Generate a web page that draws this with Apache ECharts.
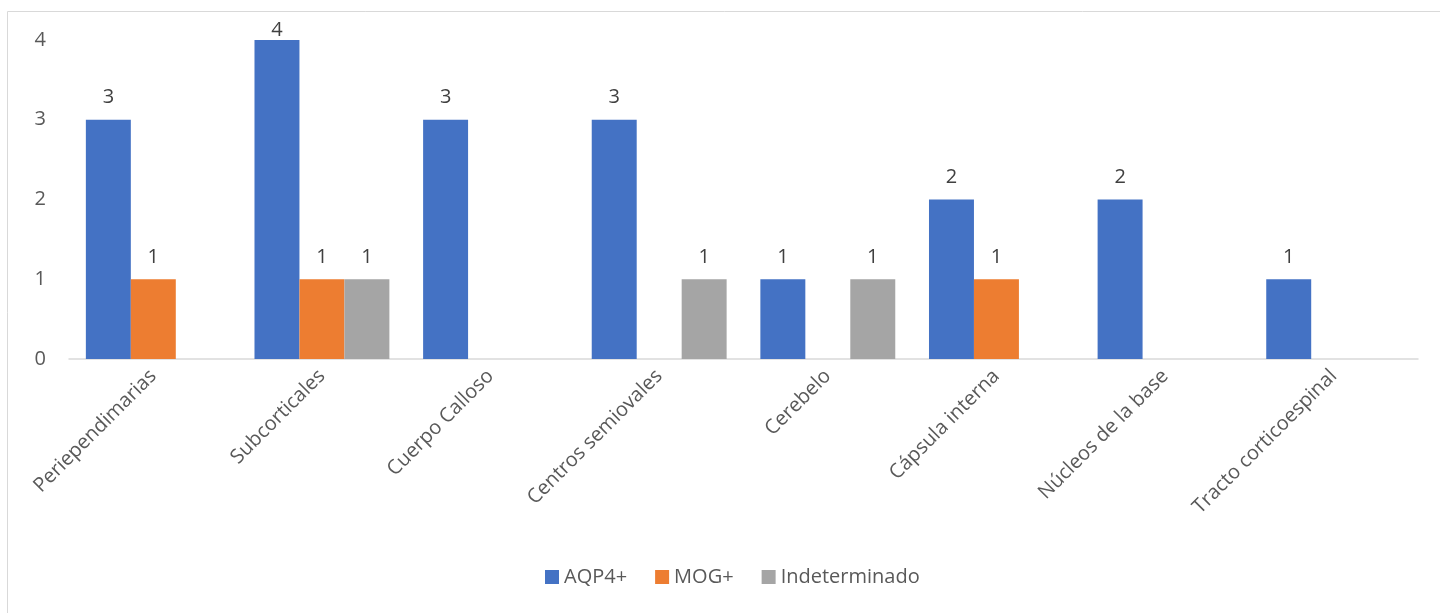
<!DOCTYPE html>
<html><head><meta charset="utf-8">
<script src="https://cdn.jsdelivr.net/npm/echarts@6/dist/echarts.min.js"></script>
<style>html,body{margin:0;padding:0;background:#fff}#c{width:1440px;height:613px}</style>
</head><body><div id="c"></div>
<script>
const categories = ['Periependimarias','Subcorticales','Cuerpo Calloso','Centros semiovales','Cerebelo','Cápsula interna','Núcleos de la base','Tracto corticoespinal'];
const aqp4 = [3,4,3,3,1,2,2,1];
const mog = [1,1,null,null,null,1,null,null];
const indet = [null,1,null,1,1,null,null,null];
const yTicks = [0,1,2,3,4];
const FONT = 'Open Sans';
const yMax = yTicks[yTicks.length-1];
const chart = echarts.init(document.getElementById('c'));
const lbl = {show:true, position:'top', distance:12, color:'#404040', fontSize:20, fontFamily:FONT};
// Values at the top of the axis get their label squeezed down inside the plot, as in the reference
const toData = arr => arr.map(v => v === yMax ? {value:v, label:{distance:0}} : v);
chart.setOption({
  animation:false,
  graphic:[{type:'rect', shape:{x:7.5,y:11.5,width:1500,height:700}, style:{fill:'none', stroke:'#d9d9d9', lineWidth:1}, silent:true}],
  grid:{left:69, right:22, top:40, bottom:254},
  legend:{bottom:21, left:540, itemWidth:14, itemHeight:14, itemGap:28, icon:'rect',
    textStyle:{color:'#595959', fontSize:20, fontFamily:FONT}},
  xAxis:{type:'category', data:categories,
    axisLine:{lineStyle:{color:'#d9d9d9', width:1.5}}, axisTick:{show:false},
    axisLabel:{rotate:45, interval:0, color:'#595959', fontSize:20, fontFamily:FONT, margin:14}},
  yAxis:{type:'value', min:yTicks[0], max:yMax, interval:1,
    splitLine:{show:false}, axisLine:{show:false}, axisTick:{show:false},
    axisLabel:{color:'#595959', fontSize:20, fontFamily:FONT, margin:23}},
  series:[
    {name:'AQP4+', type:'bar', data:toData(aqp4), itemStyle:{color:'#4472C4'}, label:lbl, barGap:'0%', barCategoryGap:'20%'},
    {name:'MOG+', type:'bar', data:toData(mog), itemStyle:{color:'#ED7D31'}, label:lbl},
    {name:'Indeterminado', type:'bar', data:toData(indet), itemStyle:{color:'#A5A5A5'}, label:lbl}
  ]
});
</script></body></html>
